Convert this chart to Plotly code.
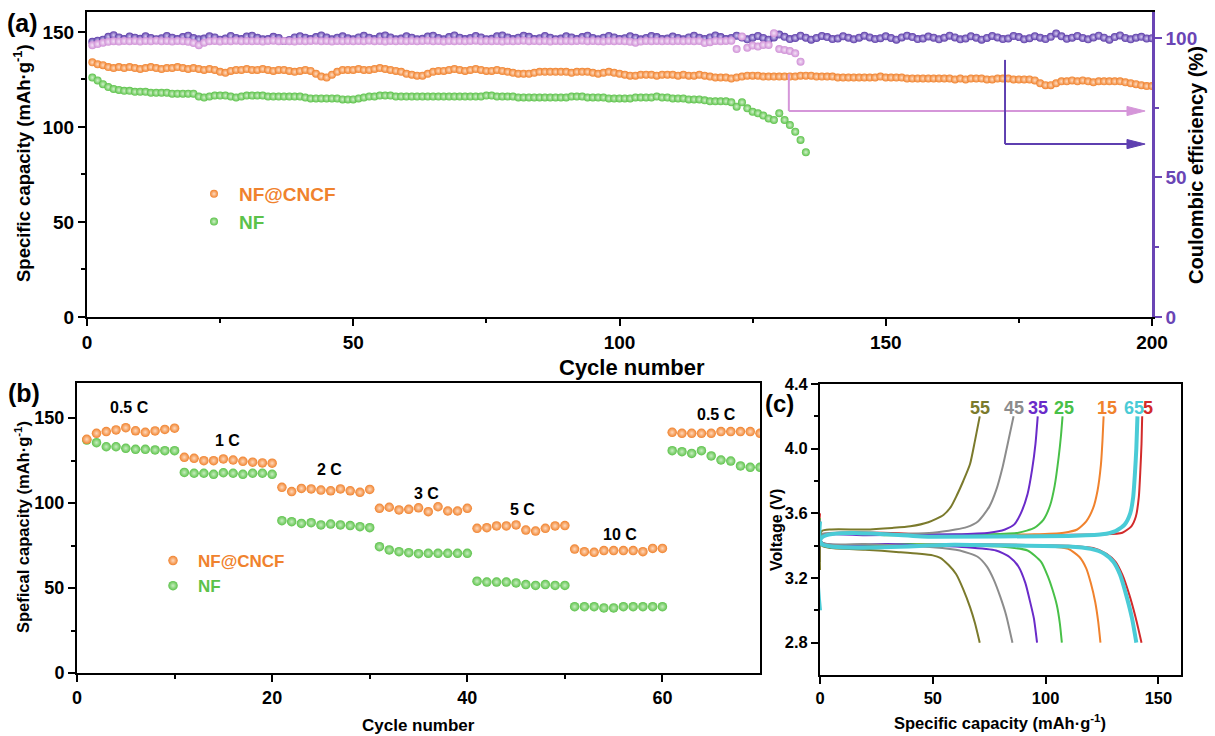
import plotly.graph_objects as go

W, H = 1215, 736
FONT = "Liberation Sans, Arial, Helvetica, sans-serif"

ORANGE = "#F0822D"
GREEN = "#5CC24A"
PURPLE = "#5B3BA8"
PINK = "#CF8FD6"
AXIS_PURPLE = "#6A45B5"

# ---------------- Panel (a): cycling at 200 cycles ----------------
A_CNCF_CAP = [
    134.0, 133.0, 132.5, 131.5, 131.0, 131.5, 131.0, 131.5, 131.0, 130.5,
    131.0, 131.5, 131.0, 130.5, 131.0, 131.0, 131.5, 131.0, 130.5, 131.0,
    130.5, 130.0, 130.5, 130.0, 129.0, 128.5, 129.5, 130.0, 130.0, 130.5,
    130.0, 130.0, 130.5, 130.0, 129.5, 130.0, 130.0, 129.5, 129.0, 129.5,
    130.0, 129.5, 128.0, 126.5, 126.0, 127.5, 129.0, 130.0, 130.0, 130.0,
    130.5, 130.0, 130.0, 130.5, 131.0, 130.5, 130.0, 129.5, 129.0, 128.0,
    127.5, 127.0, 127.0, 128.0, 129.0, 129.5, 129.5, 130.0, 130.5, 130.0,
    129.5, 130.0, 130.5, 130.0, 129.5, 129.5, 130.0, 129.5, 129.0, 128.5,
    128.0, 128.0, 128.0, 128.5, 129.0, 129.0, 129.0, 129.0, 129.0, 129.0,
    128.5, 129.0, 129.0, 129.0, 128.5, 128.0, 128.5, 129.0, 128.5, 128.0,
    127.5, 127.0, 127.0, 127.5, 127.5, 127.5, 127.0, 127.5, 127.5, 127.5,
    127.0, 127.5, 127.0, 127.0, 127.5, 127.0, 126.5, 126.0, 126.0, 126.0,
    125.5, 126.0, 126.5, 127.0, 127.0, 127.0, 126.5, 126.5, 126.5, 126.5,
    126.5, 126.5, 126.5, 127.0, 127.0, 127.0, 126.5, 126.5, 126.5, 126.5,
    126.0, 126.0, 126.0, 126.0, 126.0, 126.0, 126.0, 126.0, 126.5, 126.0,
    126.0, 126.0, 126.0, 125.5, 125.5, 125.5, 125.5, 125.5, 125.5, 125.5,
    125.5, 125.5, 125.0, 125.5, 125.0, 125.5, 125.5, 125.5, 125.0, 125.0,
    125.5, 125.5, 125.5, 125.0, 125.0, 125.0, 125.0, 124.5, 123.0, 122.0,
    122.0, 123.0, 124.0, 124.0, 124.5, 124.0, 124.5, 124.0, 123.5, 124.0,
    124.0, 124.0, 124.0, 124.0, 123.5, 123.0, 122.5, 122.0, 121.5, 121.5,
]
A_NF_CAP = [
    126.0, 124.5, 122.5, 121.0, 120.0, 119.5, 119.0, 119.0, 118.5, 118.5,
    118.5, 118.0, 118.0, 118.0, 118.0, 117.5, 117.5, 117.5, 117.5, 117.5,
    116.0, 115.5, 116.0, 116.5, 116.5, 116.5, 116.0, 115.5, 116.0, 116.5,
    116.5, 116.5, 116.5, 116.0, 116.0, 116.0, 116.0, 116.0, 116.0, 116.0,
    115.5, 115.0, 115.0, 115.0, 115.0, 115.0, 115.0, 114.5, 114.5, 114.5,
    115.0, 115.5, 116.0, 116.0, 116.5, 116.5, 116.5, 116.0, 116.0, 116.0,
    116.0, 116.0, 116.0, 116.0, 116.0, 116.0, 116.0, 116.0, 116.0, 116.0,
    116.0, 116.0, 116.0, 116.0, 116.5, 116.5, 116.0, 116.0, 116.0, 116.0,
    115.5, 115.5, 115.5, 115.5, 115.5, 115.5, 115.5, 115.5, 115.5, 115.5,
    116.0, 116.0, 116.0, 115.5, 115.5, 115.5, 115.5, 115.0, 115.0, 115.0,
    115.0, 115.0, 115.5, 115.5, 115.5, 115.5, 116.0, 115.5, 115.5, 115.0,
    115.0, 115.0, 114.5, 114.5, 114.5, 114.0, 113.5, 113.5, 113.5, 113.5,
    113.0, 110.7, 113.0, 109.8, 108.0, 107.2, 106.0, 104.5, 103.7, 107.2,
    103.7, 101.0, 97.5, 93.2, 86.7,
]
A_CNCF_CE = [
    98.6, 99.0, 99.4, 100.4, 101.0, 100.2, 99.6, 100.5, 100.1, 99.7,
    100.6, 100.0, 99.5, 99.9, 100.7, 100.1, 99.6, 100.3, 100.8, 100.0,
    99.5, 99.8, 100.6, 100.2, 99.4, 99.8, 100.7, 100.0, 99.6, 100.5,
    100.8, 100.1, 99.5, 99.6, 100.4, 100.0, 98.9, 99.3, 100.2, 100.6,
    100.1, 99.6, 100.3, 100.9, 100.2, 99.5, 100.1, 100.6, 99.9, 99.5,
    100.2, 100.8, 100.1, 99.6, 100.5, 100.9, 100.2, 99.5, 99.8, 100.6,
    100.1, 99.5, 99.7, 100.5, 100.8, 100.0, 99.5, 100.3, 100.9, 100.1,
    99.6, 100.0, 100.7, 100.2, 99.5, 99.7, 100.6, 100.9, 100.2, 99.6,
    100.1, 100.8, 100.4, 99.6, 99.9, 100.7, 100.1, 99.5, 99.8, 100.6,
    100.2, 99.6, 100.3, 100.8, 100.0, 99.5, 100.1, 100.7, 100.2, 99.6,
    99.9, 100.6, 100.1, 99.5, 100.0, 100.7, 100.3, 99.6, 99.8, 100.5,
    100.0, 99.5, 100.2, 100.8, 100.1, 99.6, 100.2, 100.9, 100.3, 99.6,
    100.0, 100.8, 100.2, 99.5, 100.1, 100.7, 100.0, 99.4, 100.2, 101.2,
    100.4, 99.6, 100.0, 100.8, 100.1, 99.4, 100.0, 100.7, 100.3, 99.6,
    99.8, 100.6, 100.1, 99.5, 100.1, 100.8, 100.2, 99.6, 99.9, 100.6,
    100.0, 99.4, 100.2, 100.8, 100.3, 99.6, 99.8, 100.5, 100.1, 99.5,
    100.1, 100.8, 100.2, 99.5, 99.8, 100.6, 100.1, 99.4, 100.0, 100.7,
    100.2, 99.6, 99.8, 100.7, 100.3, 99.5, 99.9, 100.6, 100.1, 99.6,
    100.4, 101.6, 100.6, 99.7, 100.1, 100.7, 100.0, 99.5, 100.2, 100.8,
    100.1, 99.4, 100.3, 100.9, 100.0, 99.5, 100.1, 100.4, 99.8, 99.9,
]
A_NF_CE = [
    97.4, 97.8, 98.3, 98.6, 98.8, 98.7, 98.9, 98.8, 98.9, 98.7,
    98.9, 98.8, 99.0, 98.8, 98.9, 98.7, 98.9, 98.8, 98.6, 98.2,
    97.4, 98.3, 98.8, 98.9, 98.7, 98.9, 98.8, 99.0, 98.8, 98.9,
    98.8, 98.9, 98.7, 98.9, 99.0, 98.8, 98.9, 98.8, 98.7, 98.9,
    98.8, 98.9, 99.0, 98.8, 98.9, 98.7, 98.9, 98.8, 98.9, 98.8,
    98.9, 98.8, 99.0, 98.8, 98.9, 98.7, 98.9, 98.8, 98.9, 98.8,
    98.9, 98.8, 98.9, 99.0, 98.8, 98.9, 98.7, 98.9, 98.8, 98.9,
    98.8, 98.9, 99.0, 98.8, 98.9, 98.8, 98.9, 98.7, 98.9, 98.8,
    98.9, 99.0, 98.8, 98.9, 98.8, 98.9, 98.7, 98.9, 98.8, 98.9,
    98.8, 98.9, 99.0, 98.8, 98.9, 98.8, 98.7, 98.9, 98.8, 98.9,
    98.8, 98.6, 98.3, 98.7, 98.9, 98.8, 98.9, 98.8, 98.9, 98.8,
    98.9, 98.8, 98.9, 98.8, 98.9, 98.2, 98.5, 98.9, 98.8, 98.9,
    99.0, 96.0, 100.5, 96.5, 97.3, 96.9, 97.5, 97.5, 101.7, 96.0,
    95.7, 95.3, 94.5, 91.5,
]
A_CYCLES_CNCF = list(range(1, len(A_CNCF_CAP) + 1))
A_CYCLES_NF = list(range(1, len(A_NF_CAP) + 1))
A_CYCLES_CNCF_CE = list(range(1, len(A_CNCF_CE) + 1))
A_CYCLES_NF_CE = list(range(1, len(A_NF_CE) + 1))

# arrows in panel (a): (x of vertical leg, top of vertical leg, level of horizontal leg) in cycle / capacity units
ARROW_PINK = (131.8, 128.0, 108.4)
ARROW_PURPLE = (172.4, 135.3, 91.0)
ARROW_TIP_X = 198.7

# ---------------- Panel (b): rate performance ----------------
B_CNCF = [
    137.5, 141.0, 142.0, 143.0, 144.3, 142.5, 141.6, 142.4, 143.3, 144.0,
    126.9, 126.3, 124.9, 124.9, 125.9, 125.3, 124.5, 124.0, 123.6, 123.4,
    109.2, 106.7, 108.6, 108.3, 107.6, 107.2, 108.3, 107.2, 106.3, 108.0,
    96.9, 97.5, 95.9, 96.3, 97.2, 94.9, 97.8, 95.3, 95.3, 96.9,
    85.1, 85.5, 86.5, 86.5, 87.1, 84.1, 83.5, 85.1, 86.5, 86.7,
    72.9, 71.4, 71.0, 72.0, 72.0, 72.0, 72.0, 71.4, 73.3, 73.3,
    141.6, 141.0, 141.0, 141.0, 141.0, 142.0, 142.0, 142.0, 142.0, 141.0,
]
B_NF = [
    137.0, 135.5, 133.1, 133.1, 132.2, 131.6, 131.6, 131.2, 130.8, 130.8,
    118.0, 117.5, 117.5, 116.9, 117.8, 117.5, 116.9, 117.5, 117.5, 116.9,
    89.6, 89.0, 88.0, 88.4, 87.1, 87.6, 87.1, 86.7, 86.1, 85.5,
    74.3, 72.4, 71.4, 70.8, 70.2, 70.4, 70.4, 70.4, 70.4, 70.4,
    54.0, 53.5, 53.5, 53.5, 53.0, 52.0, 51.5, 52.0, 51.5, 51.5,
    39.0, 39.0, 39.0, 38.3, 38.3, 39.0, 39.0, 39.0, 39.0, 39.0,
    130.8, 130.2, 129.2, 130.8, 127.7, 125.3, 124.7, 121.8, 121.0, 121.0,
]
B_CYCLES = list(range(1, len(B_CNCF) + 1))
RATE_LABELS = ["0.5 C", "1 C", "2 C", "3 C", "5 C", "10 C", "0.5 C"]
RATE_LABEL_X = [5.4, 15.4, 25.9, 35.8, 45.7, 55.6, 65.5]
RATE_LABEL_Y = [155.9, 137.0, 120.0, 105.3, 96.0, 81.2, 151.8]

# ---------------- Panel (c): charge/discharge curves ----------------
CYCLE_IDS = ["5", "15", "25", "35", "45", "55", "65"]
CYCLE_COLORS = ["#D22B2B", "#F0822D", "#48C048", "#6A2BC9", "#8C8C8C", "#7B7A2C", "#4ACBD6"]
CYCLE_LABEL_X = [145.5, 127.0, 108.0, 96.5, 85.8, 70.8, 139.0]
CYCLE_LABEL_Y = 4.25

CH5_Q = [0, 0.8, 60, 125, 134, 138, 140, 141.3, 142, 142.5, 142.8]
CH5_V = [3.30, 3.46, 3.465, 3.47, 3.48, 3.52, 3.58, 3.70, 3.87, 4.03, 4.20]
DC5_Q = [0, 0.8, 60, 110, 121, 127, 131, 134, 137, 140, 142.5]
DC5_V = [3.60, 3.42, 3.41, 3.40, 3.385, 3.35, 3.30, 3.22, 3.10, 2.95, 2.80]

CH15_Q = [0, 0.8, 40, 95, 108, 114, 118, 121, 123, 124.5, 125.2, 125.7]
CH15_V = [3.30, 3.46, 3.465, 3.47, 3.48, 3.50, 3.55, 3.63, 3.74, 3.90, 4.05, 4.20]
DC15_Q = [0, 0.8, 50, 100, 110, 115, 118, 120, 122, 123.3, 124.3]
DC15_V = [3.57, 3.42, 3.41, 3.395, 3.38, 3.33, 3.26, 3.17, 3.05, 2.93, 2.80]

CH25_Q = [0, 0.8, 30, 75, 88, 95, 99, 102, 104, 105.8, 106.8, 107.5]
CH25_V = [3.30, 3.46, 3.465, 3.47, 3.48, 3.51, 3.56, 3.65, 3.77, 3.95, 4.08, 4.20]
DC25_Q = [0, 0.8, 40, 80, 92, 98, 101, 103, 105, 106.3, 107.2]
DC25_V = [3.57, 3.42, 3.41, 3.395, 3.37, 3.30, 3.21, 3.13, 3.03, 2.92, 2.80]

CH35_Q = [0, 0.8, 20, 60, 75, 82, 86, 89, 92, 94, 95.5, 96.5]
CH35_V = [3.30, 3.46, 3.465, 3.47, 3.48, 3.50, 3.53, 3.60, 3.72, 3.87, 4.03, 4.20]
DC35_Q = [0, 0.8, 30, 65, 78, 84, 88, 91, 93, 94.8, 96.2]
DC35_V = [3.56, 3.42, 3.41, 3.39, 3.37, 3.33, 3.27, 3.17, 3.06, 2.95, 2.80]

CH45_Q = [0, 0.8, 20, 50, 60, 65, 70, 75, 78, 81, 83.5, 85.8]
CH45_V = [3.30, 3.47, 3.47, 3.48, 3.50, 3.515, 3.55, 3.64, 3.74, 3.89, 4.05, 4.20]
DC45_Q = [0, 0.8, 20, 50, 62, 70, 74, 77, 80, 82.5, 85.3]
DC45_V = [3.56, 3.42, 3.41, 3.39, 3.37, 3.33, 3.27, 3.19, 3.08, 2.97, 2.80]

CH55_Q = [0, 0.8, 5, 20, 32, 40, 48, 54.7, 58, 60.6, 63.5, 66.5, 68.7, 70.8]
CH55_V = [3.25, 3.49, 3.50, 3.50, 3.51, 3.52, 3.545, 3.59, 3.64, 3.71, 3.80, 3.905, 4.05, 4.20]
DC55_Q = [0, 0.8, 5, 20, 35, 44, 50, 53.3, 57, 60.3, 63.5, 66.5, 68.7, 70.8]
DC55_V = [3.55, 3.40, 3.385, 3.375, 3.36, 3.35, 3.34, 3.325, 3.28, 3.225, 3.13, 3.02, 2.92, 2.80]

CH65_Q = [0, 0.8, 50, 110, 125, 131, 135, 137.5, 138.8, 139.6, 140.2, 140.7]
CH65_V = [3.00, 3.45, 3.455, 3.46, 3.47, 3.49, 3.53, 3.60, 3.70, 3.85, 4.00, 4.20]
DC65_Q = [0, 0.8, 60, 110, 120, 126, 130, 133, 136, 138.3, 140.2]
DC65_V = [3.55, 3.41, 3.405, 3.395, 3.38, 3.35, 3.30, 3.22, 3.08, 2.95, 2.80]

CURVES = [
    (CH5_Q, CH5_V, DC5_Q, DC5_V),
    (CH15_Q, CH15_V, DC15_Q, DC15_V),
    (CH25_Q, CH25_V, DC25_Q, DC25_V),
    (CH35_Q, CH35_V, DC35_Q, DC35_V),
    (CH45_Q, CH45_V, DC45_Q, DC45_V),
    (CH55_Q, CH55_V, DC55_Q, DC55_V),
    (CH65_Q, CH65_V, DC65_Q, DC65_V),
]


def px(x):
    return x / W


def py(y):
    return 1 - y / H


def ball(color, center, size):
    return dict(color=color, size=size, line=dict(width=0),
                gradient=dict(type="radial", color=center))


fig = go.Figure()

# ---- panel (a) traces ----
fig.add_trace(go.Scatter(x=A_CYCLES_CNCF_CE, y=A_CNCF_CE, mode="markers",
                         marker=ball(PURPLE, "#D6CCF2", 8), xaxis="x", yaxis="y4", showlegend=False))
fig.add_trace(go.Scatter(x=A_CYCLES_NF_CE, y=A_NF_CE, mode="markers",
                         marker=ball(PINK, "#F4E2F7", 8), xaxis="x", yaxis="y4", showlegend=False))
fig.add_trace(go.Scatter(x=A_CYCLES_CNCF, y=A_CNCF_CAP, mode="markers", name=f"<span style='color:{ORANGE}'>NF@CNCF</span>",
                         marker=ball(ORANGE, "#FFDCC2", 8), xaxis="x", yaxis="y", legend="legend"))
fig.add_trace(go.Scatter(x=A_CYCLES_NF, y=A_NF_CAP, mode="markers", name=f"<span style='color:{GREEN}'>NF</span>",
                         marker=ball(GREEN, "#D2F1CB", 8), xaxis="x", yaxis="y", legend="legend"))

# ---- panel (b) traces ----
fig.add_trace(go.Scatter(x=B_CYCLES, y=B_NF, mode="markers", name=f"<span style='color:{GREEN}'>NF</span>",
                         marker=ball(GREEN, "#C8EEC0", 9.5), xaxis="x2", yaxis="y2", legend="legend2", legendrank=2))
fig.add_trace(go.Scatter(x=B_CYCLES, y=B_CNCF, mode="markers", name=f"<span style='color:{ORANGE}'>NF@CNCF</span>",
                         marker=ball(ORANGE, "#FFD9BC", 9.5), xaxis="x2", yaxis="y2", legend="legend2", legendrank=1))

# ---- panel (c) traces ----
for cid, col, (cq, cv, dq, dv) in zip(CYCLE_IDS, CYCLE_COLORS, CURVES):
    lw = 4 if cid == "65" else 2
    for q, v in ((cq, cv), (dq, dv)):
        fig.add_trace(go.Scatter(x=q, y=v, mode="lines", line=dict(color=col, width=lw, shape="spline", smoothing=0.6),
                                 xaxis="x3", yaxis="y3", showlegend=False))

# ---- axes ----
tf = lambda s, c="black": dict(family=FONT, size=s, color=c, weight="bold")
common = dict(showgrid=False, zeroline=False, showline=True, linewidth=2, linecolor="black", automargin=False,
              ticks="outside", tickwidth=2, tickcolor="black", ticklen=7)

fig.update_layout(
    xaxis=dict(**common, domain=[px(87), px(1152)], anchor="y", range=[0, 200], tickvals=[0, 50, 100, 150, 200],
               mirror=True, tickfont=tf(19),
               minor=dict(tickvals=[25, 75, 125, 175], ticks="outside", ticklen=4, tickwidth=2, tickcolor="black")),
    yaxis=dict(**common, domain=[py(317), py(12)], anchor="x", range=[0, 160.5], tickvals=[0, 50, 100, 150],
               tickfont=tf(19),
               minor=dict(tickvals=[25, 75, 125], ticks="outside", ticklen=4, tickwidth=2, tickcolor="black")),
    yaxis4=dict(showgrid=False, zeroline=False, showline=True, linewidth=2.5, linecolor=AXIS_PURPLE, automargin=False,
                ticks="outside", tickwidth=2, tickcolor=AXIS_PURPLE, ticklen=7,
                overlaying="y", side="right", anchor="x", range=[0, 109.3], tickvals=[0, 50, 100],
                tickfont=tf(19, AXIS_PURPLE),
                minor=dict(tickvals=[25, 75], ticks="outside", ticklen=4, tickwidth=2, tickcolor=AXIS_PURPLE)),
    xaxis2=dict(**common, domain=[px(77), px(760)], anchor="y2", range=[0, 70], tickvals=[0, 20, 40, 60],
                mirror=True, tickfont=tf(18),
                minor=dict(tickvals=[10, 30, 50], ticks="outside", ticklen=4, tickwidth=2, tickcolor="black")),
    yaxis2=dict(**common, domain=[py(673), py(383)], anchor="x2", range=[0, 170.6], tickvals=[0, 50, 100, 150],
                mirror=True, tickfont=tf(18),
                minor=dict(tickvals=[25, 75, 125], ticks="outside", ticklen=4, tickwidth=2, tickcolor="black")),
    xaxis3=dict(**common, domain=[px(820), px(1181)], anchor="y3", range=[0, 160], tickvals=[0, 50, 100, 150],
                mirror=True, tickfont=tf(16.5)),
    yaxis3=dict(**common, domain=[py(675), py(384)], anchor="x3", range=[2.6, 4.4],
                tickvals=[2.8, 3.2, 3.6, 4.0, 4.4], tickformat=".1f", mirror=True, tickfont=tf(16.5),
                minor=dict(tickvals=[3.0, 3.4, 3.8, 4.2], ticks="outside", ticklen=4, tickwidth=2, tickcolor="black")),
    legend=dict(x=px(189), y=py(175), xanchor="left", yanchor="top", bgcolor="rgba(0,0,0,0)",
                font=dict(family=FONT, size=19, weight="bold"), itemwidth=40, tracegroupgap=4),
    legend2=dict(x=px(148), y=py(543), xanchor="left", yanchor="top", bgcolor="rgba(0,0,0,0)",
                 font=dict(family=FONT, size=17, weight="bold"), itemwidth=40),
    width=W, height=H, margin=dict(l=0, r=0, t=0, b=0, autoexpand=False),
    plot_bgcolor="white", paper_bgcolor="white",
    font=dict(family=FONT, color="black"),
)

ann = []
# panel labels
for t, x, y, s in (("(a)", 22, 23, 25), ("(b)", 24, 393, 25), ("(c)", 779, 403, 24)):
    ann.append(dict(text=f"<b>{t}</b>", x=px(x), y=py(y), xref="paper", yref="paper", showarrow=False,
                    xanchor="center", yanchor="middle", font=dict(family=FONT, size=s, color="black")))
# axis titles
titles = [
    ("Specific capacity (mAh·g<sup>-1</sup>)", 22, 163, -90, 18.5),
    ("Coulombic efficiency (%)", 1196, 165, -90, 20),
    ("Cycle number", 632, 367, 0, 22),
    ("Spefical capacity (mAh·g<sup>-1</sup>)", 22, 527, -90, 16.5),
    ("Cycle number", 418, 725, 0, 17),
    ("Voltage (V)", 776, 530, -90, 16),
    ("Specific capacity (mAh·g<sup>-1</sup>)", 1000, 722, 0, 16.5),
]
for t, x, y, ang, s in titles:
    ann.append(dict(text=f"<b>{t}</b>", x=px(x), y=py(y), xref="paper", yref="paper", showarrow=False,
                    xanchor="center", yanchor="middle",
                    textangle=ang, font=dict(family=FONT, size=s, color="black")))
# rate labels
for t, x, y in zip(RATE_LABELS, RATE_LABEL_X, RATE_LABEL_Y):
    ann.append(dict(text=f"<b>{t}</b>", x=x, y=y, xref="x2", yref="y2", showarrow=False,
                    xanchor="center", yanchor="middle", font=dict(family=FONT, size=16, color="black")))
# cycle labels
for t, x, c in zip(CYCLE_IDS, CYCLE_LABEL_X, CYCLE_COLORS):
    ann.append(dict(text=f"<b>{t}</b>", x=x, y=CYCLE_LABEL_Y, xref="x3", yref="y3", showarrow=False,
                    xanchor="center", yanchor="middle", font=dict(family=FONT, size=18, color=c)))
fig.update_layout(annotations=ann)

# arrows (a)
shapes = []
for (ax0, ytop, ylev), col in ((ARROW_PINK, "#D596D9"), (ARROW_PURPLE, "#5E3FB0")):
    head = 3.4
    shapes.append(dict(type="line", xref="x", yref="y", x0=ax0, x1=ax0, y0=ytop, y1=ylev,
                       line=dict(color=col, width=2)))
    shapes.append(dict(type="line", xref="x", yref="y", x0=ax0, x1=ARROW_TIP_X - head, y0=ylev, y1=ylev,
                       line=dict(color=col, width=2)))
    shapes.append(dict(type="path", xref="x", yref="y",
                       path=f"M {ARROW_TIP_X},{ylev} L {ARROW_TIP_X - head},{ylev + 2.4} L {ARROW_TIP_X - head},{ylev - 2.4} Z",
                       fillcolor=col, line=dict(color=col, width=1)))
fig.update_layout(shapes=shapes)

fig.write_html("out.html", config={"displayModeBar": False},
               post_script="document.body.style.margin='0';document.body.style.overflow='hidden';")
